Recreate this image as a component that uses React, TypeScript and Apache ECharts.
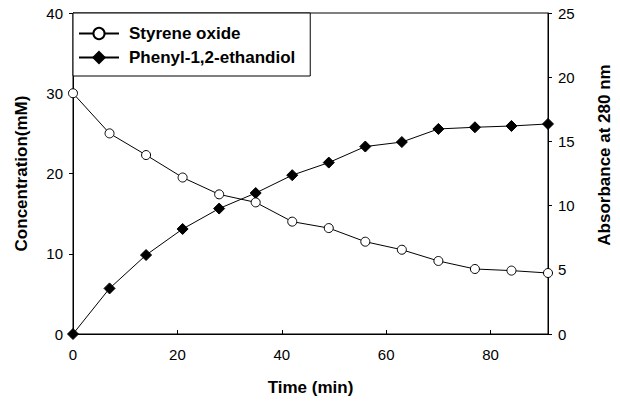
import React, { useEffect, useRef } from "react";
import * as echarts from "echarts";

const times = [0, 7, 14, 21, 28, 35, 42, 49, 56, 63, 70, 77, 84, 91];
const styreneOxide = [30, 25.0, 22.3, 19.5, 17.4, 16.4, 14.0, 13.2, 11.5, 10.5, 9.1, 8.1, 7.9, 7.6];
const phenylEthandiol = [0, 3.55, 6.15, 8.18, 9.77, 10.98, 12.37, 13.35, 14.6, 14.95, 15.97, 16.1, 16.2, 16.36];
const seriesNames = ["Styrene oxide", "Phenyl-1,2-ethandiol"];
const xTitle = "Time (min)";
const yLeftTitle = "Concentration(mM)";
const yRightTitle = "Absorbance at 280 nm";

const FONT = "Liberation Sans, Arial, Helvetica, sans-serif";

export default function App() {
  const ref = useRef<HTMLDivElement>(null);
  useEffect(() => {
    if (!ref.current) return;
    const chart = echarts.init(ref.current, undefined, { renderer: "svg" });
    const axisCommon = {
      axisLine: { show: true, lineStyle: { color: "#000", width: 1 } },
      axisLabel: { color: "#000", fontSize: 15, fontFamily: FONT },
      splitLine: { show: false },
      nameTextStyle: { color: "#000", fontSize: 17, fontWeight: "bold", fontFamily: FONT },
    };
    chart.setOption({
      animation: false,
      backgroundColor: "#fff",
      grid: {
        left: 73,
        top: 13,
        width: 475,
        height: 324,
        show: true,
        borderColor: "#000",
        borderWidth: 1,
        containLabel: false,
      },
      legend: {
        left: 73,
        top: 13,
        orient: "vertical",
        padding: [12, 15, 10, 5],
        itemWidth: 40,
        itemHeight: 14,
        itemGap: 7,
        borderColor: "#000",
        borderWidth: 1,
        backgroundColor: "#fff",
        textStyle: { color: "#000", fontSize: 17, fontWeight: "bold", fontFamily: FONT, padding: [0, 0, 0, 5] },
        data: seriesNames,
      },
      graphic: [
        {
          type: "text",
          x: 604,
          y: 155,
          rotation: Math.PI / 2,
          style: {
            text: yRightTitle,
            fill: "#000",
            font: `bold 17px ${FONT}`,
            align: "center",
            verticalAlign: "middle",
          },
        },
      ],
      xAxis: {
        type: "value",
        min: 0,
        max: 91,
        interval: 20,
        ...axisCommon,
        axisTick: { show: true, inside: true, length: 4, lineStyle: { color: "#000" } },
        axisLabel: { ...axisCommon.axisLabel, margin: 13, showMaxLabel: false },
        name: xTitle,
        nameLocation: "middle",
        nameGap: 45,
      },
      yAxis: [
        {
          type: "value",
          min: 0,
          max: 40,
          interval: 10,
          position: "left",
          ...axisCommon,
          axisTick: { show: true, inside: false, length: 4, lineStyle: { color: "#000" } },
          axisLabel: { ...axisCommon.axisLabel, margin: 10 },
          name: yLeftTitle,
          nameLocation: "middle",
          nameRotate: 90,
          nameGap: 43,
        },
        {
          type: "value",
          min: 0,
          max: 25,
          interval: 5,
          position: "right",
          ...axisCommon,
          axisTick: { show: true, inside: false, length: 4, lineStyle: { color: "#000" } },
          axisLabel: { ...axisCommon.axisLabel, margin: 10 },
        },
      ],
      series: [
        {
          name: seriesNames[0],
          type: "line",
          yAxisIndex: 0,
          data: times.map((t, i) => [t, styreneOxide[i]]),
          symbol: "circle",
          symbolSize: 9,
          showAllSymbol: true,
          lineStyle: { color: "#000", width: 1 },
          itemStyle: { color: "#fff", borderColor: "#000", borderWidth: 1 },
          z: 3,
        },
        {
          name: seriesNames[1],
          type: "line",
          yAxisIndex: 1,
          data: times.map((t, i) => [t, phenylEthandiol[i]]),
          symbol: "diamond",
          symbolSize: 11,
          showAllSymbol: true,
          lineStyle: { color: "#000", width: 1 },
          itemStyle: { color: "#000", borderColor: "#000", borderWidth: 1 },
          z: 2,
        },
      ],
    });
    return () => chart.dispose();
  }, []);
  return <div ref={ref} style={{ width: 620, height: 401, position: "absolute", left: 0, top: 0 }} />;
}
